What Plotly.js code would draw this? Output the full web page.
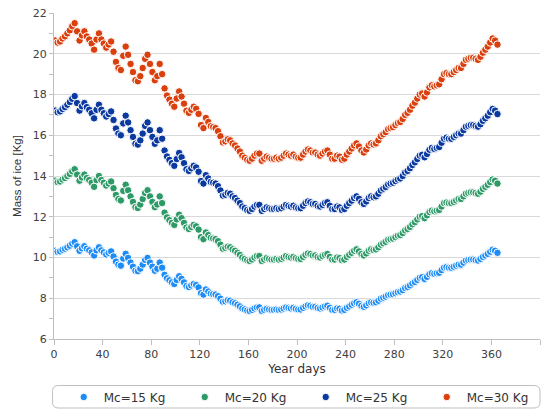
<!DOCTYPE html>
<html>
<head>
<meta charset="utf-8">
<script src="https://cdn.plot.ly/plotly-3.0.1.min.js"></script>
<style>html,body{margin:0;padding:0;background:#fff;}#chart{width:548px;height:410px;}</style>
</head>
<body>
<div id="chart"></div>
<script>
// Mass of ice [Kg], one value every 2 days starting at day 1
var seriesNames = ["Mc=15 Kg", "Mc=20 Kg", "Mc=25 Kg", "Mc=30 Kg"];
var firstDay = 1;
var dayStep = 2;
var xTicks = [0, 40, 80, 120, 160, 200, 240, 280, 320, 360, 400];
var yTicks = [6, 8, 10, 12, 14, 16, 18, 20, 22];

var m15 = [10.33,10.28,10.3,10.38,10.43,10.5,10.58,10.68,10.75,10.55,
10.33,10.45,10.55,10.43,10.35,10.25,10.1,10.35,10.5,10.35,
10.25,10.15,10.23,10.3,10.05,9.8,9.65,9.6,9.95,10.18,
9.98,9.75,9.55,9.35,9.33,9.45,9.65,9.88,9.98,9.75,
9.55,9.35,9.45,9.75,9.5,9.15,8.98,8.88,8.78,8.7,
8.9,9.08,8.95,8.78,8.6,8.55,8.63,8.7,8.65,8.53,
8.25,8.18,8.43,8.33,8.23,8.2,8.18,8.1,7.98,7.83,
7.85,7.9,7.88,7.8,7.75,7.68,7.6,7.5,7.45,7.4,
7.38,7.43,7.5,7.55,7.55,7.38,7.43,7.48,7.45,7.43,
7.43,7.45,7.43,7.45,7.5,7.55,7.53,7.5,7.53,7.48,
7.45,7.45,7.53,7.6,7.65,7.63,7.58,7.58,7.53,7.5,
7.55,7.6,7.63,7.53,7.43,7.43,7.5,7.48,7.4,7.43,
7.53,7.6,7.68,7.75,7.8,7.73,7.63,7.58,7.65,7.75,
7.8,7.78,7.8,7.88,7.98,8.03,8.08,8.15,8.18,8.2,
8.25,8.3,8.33,8.4,8.5,8.55,8.63,8.73,8.8,8.9,
9.0,9.03,8.95,9.05,9.18,9.23,9.2,9.23,9.25,9.38,
9.5,9.53,9.5,9.5,9.55,9.6,9.65,9.65,9.75,9.85,
9.88,9.9,9.9,9.88,9.85,9.93,10.03,10.1,10.18,10.28,
10.38,10.33,10.23];

var m20 = [13.77,13.7,13.73,13.83,13.9,14.0,14.1,14.23,14.33,14.07,
13.77,13.93,14.07,13.9,13.8,13.67,13.47,13.8,14.0,13.8,
13.67,13.53,13.63,13.73,13.4,13.07,12.87,12.8,13.27,13.57,
13.3,13.0,12.73,12.47,12.43,12.6,12.87,13.17,13.3,13.0,
12.73,12.47,12.6,13.0,12.67,12.2,11.97,11.83,11.7,11.6,
11.87,12.1,11.93,11.7,11.47,11.4,11.5,11.6,11.53,11.37,
11.0,10.9,11.23,11.1,10.97,10.93,10.9,10.8,10.63,10.43,
10.47,10.53,10.5,10.4,10.33,10.23,10.13,10.0,9.93,9.87,
9.83,9.9,10.0,10.07,10.07,9.83,9.9,9.97,9.93,9.9,
9.9,9.93,9.9,9.93,10.0,10.07,10.03,10.0,10.03,9.97,
9.93,9.93,10.03,10.13,10.2,10.17,10.1,10.1,10.03,10.0,
10.07,10.13,10.17,10.03,9.9,9.9,10.0,9.97,9.87,9.9,
10.03,10.13,10.23,10.33,10.4,10.3,10.17,10.1,10.2,10.33,
10.4,10.37,10.4,10.5,10.63,10.7,10.77,10.87,10.9,10.93,
11.0,11.07,11.1,11.2,11.33,11.4,11.5,11.63,11.73,11.87,
12.0,12.03,11.93,12.07,12.23,12.3,12.27,12.3,12.33,12.5,
12.67,12.7,12.67,12.67,12.73,12.8,12.87,12.87,13.0,13.13,
13.17,13.2,13.2,13.17,13.13,13.23,13.37,13.47,13.57,13.7,
13.83,13.77,13.63];

var m25 = [17.21,17.13,17.17,17.29,17.38,17.5,17.63,17.79,17.92,17.58,
17.21,17.42,17.58,17.38,17.25,17.08,16.83,17.25,17.5,17.25,
17.08,16.92,17.04,17.17,16.75,16.33,16.08,16.0,16.58,16.96,
16.63,16.25,15.92,15.58,15.54,15.75,16.08,16.46,16.63,16.25,
15.92,15.58,15.75,16.25,15.83,15.25,14.96,14.79,14.63,14.5,
14.83,15.13,14.92,14.63,14.33,14.25,14.38,14.5,14.42,14.21,
13.75,13.63,14.04,13.88,13.71,13.67,13.63,13.5,13.29,13.04,
13.08,13.17,13.13,13.0,12.92,12.79,12.67,12.5,12.42,12.33,
12.29,12.38,12.5,12.58,12.58,12.29,12.38,12.46,12.42,12.38,
12.38,12.42,12.38,12.42,12.5,12.58,12.54,12.5,12.54,12.46,
12.42,12.42,12.54,12.67,12.75,12.71,12.63,12.63,12.54,12.5,
12.58,12.67,12.71,12.54,12.38,12.38,12.5,12.46,12.33,12.38,
12.54,12.67,12.79,12.92,13.0,12.88,12.71,12.63,12.75,12.92,
13.0,12.96,13.0,13.13,13.29,13.38,13.46,13.58,13.63,13.67,
13.75,13.83,13.88,14.0,14.17,14.25,14.38,14.54,14.67,14.83,
15.0,15.04,14.92,15.08,15.29,15.38,15.33,15.38,15.42,15.63,
15.83,15.88,15.83,15.83,15.92,16.0,16.08,16.08,16.25,16.42,
16.46,16.5,16.5,16.46,16.42,16.54,16.71,16.83,16.96,17.13,
17.29,17.21,17.04];

var m30 = [20.65,20.55,20.6,20.75,20.85,21.0,21.15,21.35,21.5,21.1,
20.65,20.9,21.1,20.85,20.7,20.5,20.2,20.7,21.0,20.7,
20.5,20.3,20.45,20.6,20.1,19.6,19.3,19.2,19.9,20.35,
19.95,19.5,19.1,18.7,18.65,18.9,19.3,19.75,19.95,19.5,
19.1,18.7,18.9,19.5,19.0,18.3,17.95,17.75,17.55,17.4,
17.8,18.15,17.9,17.55,17.2,17.1,17.25,17.4,17.3,17.05,
16.5,16.35,16.85,16.65,16.45,16.4,16.35,16.2,15.95,15.65,
15.7,15.8,15.75,15.6,15.5,15.35,15.2,15.0,14.9,14.8,
14.75,14.85,15.0,15.1,15.1,14.75,14.85,14.95,14.9,14.85,
14.85,14.9,14.85,14.9,15.0,15.1,15.05,15.0,15.05,14.95,
14.9,14.9,15.05,15.2,15.3,15.25,15.15,15.15,15.05,15.0,
15.1,15.2,15.25,15.05,14.85,14.85,15.0,14.95,14.8,14.85,
15.05,15.2,15.35,15.5,15.6,15.45,15.25,15.15,15.3,15.5,
15.6,15.55,15.6,15.75,15.95,16.05,16.15,16.3,16.35,16.4,
16.5,16.6,16.65,16.8,17.0,17.1,17.25,17.45,17.6,17.8,
18.0,18.05,17.9,18.1,18.35,18.45,18.4,18.45,18.5,18.75,
19.0,19.05,19.0,19.0,19.1,19.2,19.3,19.3,19.5,19.7,
19.75,19.8,19.8,19.75,19.7,19.85,20.05,20.2,20.35,20.55,
20.75,20.65,20.45];

var seriesValues = [m15, m20, m25, m30];
var colors = ["#1e8cf5", "#2e9a68", "#0a3aa0", "#d9400e"];

var traces = seriesValues.map(function (vals, i) {
  return {
    type: "scatter",
    mode: "markers",
    name: seriesNames[i],
    x0: firstDay,
    dx: dayStep,
    y: vals,
    marker: { color: colors[i], size: 7.5, line: { color: "#ffffff", width: 1 } },
    hoverinfo: "x+y+name"
  };
});

var tickFont = { family: "DejaVu Sans, Verdana, sans-serif", size: 11, color: "#404040" };
var axisGray = "#bfbfbf";

// rounded legend frame (in paper coordinates)
var bx0 = -0.003, bx1 = 1.0, by0 = -0.2117, by1 = -0.1426, rx = 0.012, ry = 0.018;
var framePath = "M " + (bx0 + rx) + " " + by1 +
  " L " + (bx1 - rx) + " " + by1 +
  " Q " + bx1 + " " + by1 + " " + bx1 + " " + (by1 - ry) +
  " L " + bx1 + " " + (by0 + ry) +
  " Q " + bx1 + " " + by0 + " " + (bx1 - rx) + " " + by0 +
  " L " + (bx0 + rx) + " " + by0 +
  " Q " + bx0 + " " + by0 + " " + bx0 + " " + (by0 + ry) +
  " L " + bx0 + " " + (by1 - ry) +
  " Q " + bx0 + " " + by1 + " " + (bx0 + rx) + " " + by1 + " Z";

var layout = {
  width: 548,
  height: 410,
  margin: { l: 54, r: 8, t: 13, b: 71, autoexpand: false },
  paper_bgcolor: "#ffffff",
  plot_bgcolor: "#ffffff",
  showlegend: true,
  xaxis: {
    range: [0, 400],
    tickvals: xTicks,
    ticktext: xTicks.map(String),
    showgrid: false,
    zeroline: false,
    showline: true,
    linecolor: axisGray,
    linewidth: 1,
    ticks: "outside",
    ticklen: 5,
    tickcolor: axisGray,
    tickfont: tickFont,
    automargin: false,
    title: { text: "Year days", font: { family: "DejaVu Sans, Verdana, sans-serif", size: 12, color: "#333333" }, standoff: 4 }
  },
  yaxis: {
    range: [6, 22],
    tickvals: yTicks,
    ticktext: yTicks.map(String),
    showgrid: true,
    gridcolor: "#d9d9d9",
    gridwidth: 1,
    zeroline: false,
    showline: true,
    linecolor: axisGray,
    linewidth: 1,
    ticks: "outside",
    ticklen: 4,
    tickcolor: axisGray,
    tickfont: tickFont,
    automargin: false,
    minor: { dtick: 1, ticks: "outside", ticklen: 4, tickcolor: axisGray, showgrid: false },
    title: { text: "Mass of ice [Kg]", font: { family: "Liberation Sans, Arial, sans-serif", size: 11.5, color: "#333333" }, standoff: 8 }
  },
  legend: {
    orientation: "h",
    x: 0.02,
    xanchor: "left",
    y: -0.178,
    yanchor: "middle",
    bgcolor: "rgba(0,0,0,0)",
    borderwidth: 0,
    font: { family: "DejaVu Sans, Verdana, sans-serif", size: 12, color: "#333333" },
    entrywidth: 76,
    entrywidthmode: "pixels",
    itemsizing: "trace"
  },
  shapes: [{
    type: "path",
    xref: "paper",
    yref: "paper",
    path: framePath,
    line: { color: "#bfbfbf", width: 1 },
    fillcolor: "rgba(0,0,0,0)",
    layer: "below"
  }]
};

Plotly.newPlot("chart", traces, layout, { displayModeBar: false, staticPlot: true });
</script>
</body>
</html>
